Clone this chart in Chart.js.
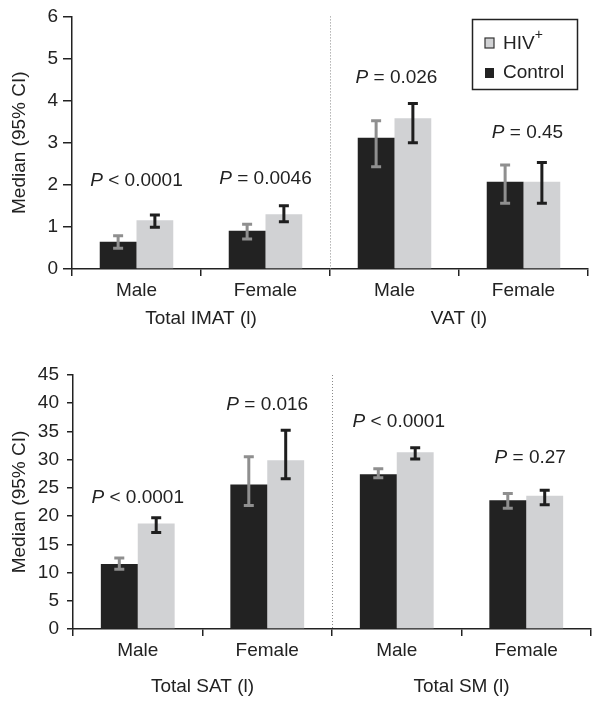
<!DOCTYPE html>
<html>
<head>
<meta charset="utf-8">
<script src="https://cdn.jsdelivr.net/npm/chart.js@4.4.1/dist/chart.umd.min.js"></script>
<style>
  html, body { margin: 0; padding: 0; background: #fff; }
  .panel { position: relative; width: 602px; }
</style>
</head>
<body>
<div class="panel" style="height:340px"><canvas id="cTop"></canvas></div>
<div class="panel" style="height:368px"><canvas id="cBot"></canvas></div>
<script>
// categorías (ambos paneles)
const SEXES = ['Male', 'Female', 'Male', 'Female'];
const TOP_GROUPS = ['Total IMAT (l)', 'VAT (l)'];
const BOT_GROUPS = ['Total SAT (l)', 'Total SM (l)'];
const SERIES = ['Control', 'HIV+'];

// panel superior: IMAT / VAT (mediana e IC 95%)
const topControl   = [0.65, 0.91, 3.12, 2.07];
const topControlLo = [0.49, 0.71, 2.43, 1.56];
const topControlHi = [0.79, 1.06, 3.52, 2.47];
const topHiv       = [1.16, 1.30, 3.58, 2.07];
const topHivLo     = [0.99, 1.12, 3.00, 1.56];
const topHivHi     = [1.28, 1.50, 3.93, 2.53];
const topP         = ['< 0.0001', '= 0.0046', '= 0.026', '= 0.45'];

// panel inferior: SAT / SM
const botControl   = [11.5, 25.6, 27.4, 22.8];
const botControlLo = [10.6, 21.9, 26.8, 21.4];
const botControlHi = [12.6, 30.5, 28.4, 24.0];
const botHiv       = [18.7, 29.9, 31.3, 23.6];
const botHivLo     = [17.1, 26.6, 30.1, 22.0];
const botHivHi     = [19.7, 35.2, 32.1, 24.6];
const botP         = ['< 0.0001', '= 0.016', '< 0.0001', '= 0.27'];

// ticks del eje Y
const TOP_Y = { min: 0, max: 6, step: 1 };
const BOT_Y = { min: 0, max: 45, step: 5 };

const FONT = '"Liberation Sans", Arial, Helvetica, sans-serif';
const INK = '#222222';
const DARK = '#222222', LIGHT = '#d1d2d4';

// barras de error (IC 95%)
const errorBars = {
  id: 'errorBars',
  afterDatasetsDraw(chart) {
    const ctx = chart.ctx, y = chart.scales.y;
    chart.data.datasets.forEach((ds, i) => {
      chart.getDatasetMeta(i).data.forEach((bar, j) => {
        const t = y.getPixelForValue(ds.hi[j]), b = y.getPixelForValue(ds.lo[j]);
        ctx.save();
        ctx.strokeStyle = ds.errColor;
        ctx.lineWidth = 3;
        ctx.beginPath();
        ctx.moveTo(bar.x, t); ctx.lineTo(bar.x, b);
        ctx.moveTo(bar.x - 5, t); ctx.lineTo(bar.x + 5, t);
        ctx.moveTo(bar.x - 5, b); ctx.lineTo(bar.x + 5, b);
        ctx.stroke();
        ctx.restore();
      });
    });
  }
};

// separador punteado, títulos de grupo, valores P y leyenda
const decor = {
  id: 'decor',
  beforeDatasetsDraw(chart) {
    const ctx = chart.ctx, x = chart.scales.x, a = chart.chartArea;
    const sx = Math.round((x.getPixelForValue(1) + x.getPixelForValue(2)) / 2) + 0.5;
    ctx.save();
    ctx.strokeStyle = '#8a8a8a';
    ctx.lineWidth = 1;
    ctx.setLineDash([1, 2]);
    ctx.beginPath(); ctx.moveTo(sx, a.top); ctx.lineTo(sx, a.bottom); ctx.stroke();
    ctx.restore();
  },
  afterDraw(chart, args, opts) {
    const ctx = chart.ctx, x = chart.scales.x, y = chart.scales.y, a = chart.chartArea;
    ctx.save();
    ctx.fillStyle = INK;
    ctx.textBaseline = 'middle';

    // títulos de grupo bajo el eje
    ctx.font = `19px ${FONT}`;
    ctx.textAlign = 'center';
    opts.groups.forEach((g, k) => {
      const cx = (x.getPixelForValue(2 * k) + x.getPixelForValue(2 * k + 1)) / 2;
      ctx.fillText(g, cx, a.bottom + opts.groupGap);
    });

    // valores P
    ctx.textAlign = 'left';
    opts.p.forEach((txt, k) => {
      ctx.font = `italic 19px ${FONT}`;
      const wP = ctx.measureText('P').width;
      ctx.font = `19px ${FONT}`;
      const rest = ' ' + txt;
      const w = wP + ctx.measureText(rest).width;
      const x0 = x.getPixelForValue(k) + opts.pShift[k] - w / 2;
      const yy = y.getPixelForValue(opts.pAt[k]);
      ctx.font = `italic 19px ${FONT}`;
      ctx.fillText('P', x0, yy);
      ctx.font = `19px ${FONT}`;
      ctx.fillText(rest, x0 + wP, yy);
    });

    // leyenda
    if (opts.legend) {
      const L = opts.legend;
      ctx.strokeStyle = INK;
      ctx.lineWidth = 1.5;
      ctx.strokeRect(L.x + 0.5, L.y + 0.5, L.w, L.h);
      const hiv = chart.data.datasets[1], ctl = chart.data.datasets[0];
      // HIV+
      ctx.fillStyle = hiv.backgroundColor;
      ctx.fillRect(L.x + 13, L.y + 19, 9, 10);
      ctx.lineWidth = 1.2;
      ctx.strokeStyle = '#333';
      ctx.strokeRect(L.x + 13, L.y + 19, 9, 10);
      ctx.fillStyle = INK;
      ctx.font = `19px ${FONT}`;
      ctx.fillText('HIV', L.x + 31, L.y + 25);
      const wh = ctx.measureText('HIV').width;
      ctx.font = `14px ${FONT}`;
      ctx.fillText('+', L.x + 31 + wh, L.y + 16);
      // Control
      ctx.fillStyle = ctl.backgroundColor;
      ctx.fillRect(L.x + 13, L.y + 49, 9, 10);
      ctx.fillStyle = INK;
      ctx.font = `19px ${FONT}`;
      ctx.fillText(SERIES[0], L.x + 31, L.y + 54);
    }
    ctx.restore();
  }
};

function makePanel(id, cfg) {
  const datasets = [
    { label: SERIES[0], data: cfg.control, lo: cfg.controlLo, hi: cfg.controlHi,
      backgroundColor: DARK, errColor: '#8f8f8f' },
    { label: SERIES[1], data: cfg.hiv, lo: cfg.hivLo, hi: cfg.hivHi,
      backgroundColor: LIGHT, errColor: '#1e1e1e' }
  ].map(d => Object.assign(d, { categoryPercentage: 0.57, barPercentage: 1.0, borderWidth: 0 }));

  return new Chart(document.getElementById(id), {
    type: 'bar',
    data: { labels: SEXES, datasets },
    options: {
      responsive: true,
      maintainAspectRatio: false,
      animation: false,
      layout: { padding: { top: cfg.padTop, right: cfg.padRight, left: 0, bottom: 0 } },
      plugins: {
        legend: { display: false },
        tooltip: { enabled: false },
        decor: { groups: cfg.groups, groupGap: cfg.groupGap, p: cfg.p, pAt: cfg.pAt,
                 pShift: [0, 0, 2, 4], legend: cfg.legend }
      },
      scales: {
        x: {
          grid: { display: true, offset: true, drawOnChartArea: false, tickLength: 7,
                  color: INK, lineWidth: 1.5 },
          border: { color: INK, width: 1.5 },
          ticks: { color: INK, font: { family: FONT, size: 19 }, padding: 3 },
          afterFit: s => { s.height = cfg.xHeight; }
        },
        y: {
          min: cfg.y.min, max: cfg.y.max,
          grid: { drawOnChartArea: false, tickLength: cfg.yTick, color: INK, lineWidth: 1.5 },
          border: { color: INK, width: 1.5 },
          ticks: { stepSize: cfg.y.step, color: INK, font: { family: FONT, size: 19 }, padding: cfg.yPad },
          title: { display: true, text: 'Median (95% CI)', color: INK,
                   font: { family: FONT, size: 19 }, padding: { top: 8, bottom: 0 } },
          afterFit: s => { s.width = cfg.yWidth; }
        }
      }
    },
    plugins: [decor, errorBars]
  });
}

makePanel('cTop', {
  control: topControl, controlLo: topControlLo, controlHi: topControlHi,
  hiv: topHiv, hivLo: topHivLo, hivHi: topHivHi,
  p: topP, pAt: [2.1, 2.14, 4.54, 3.24], groups: TOP_GROUPS,
  y: TOP_Y, padTop: 15, padRight: 14, xHeight: 71, yWidth: 72, groupGap: 50,
  yTick: 9, yPad: 5,
  legend: { x: 472, y: 19, w: 105, h: 70 }
});

makePanel('cBot', {
  control: botControl, controlLo: botControlLo, controlHi: botControlHi,
  hiv: botHiv, hivLo: botHivLo, hivHi: botHivHi,
  p: botP, pAt: [23.2, 39.7, 36.7, 30.3], groups: BOT_GROUPS,
  y: BOT_Y, padTop: 35, padRight: 11, xHeight: 79, yWidth: 73, groupGap: 58,
  yTick: 6, yPad: 8,
  legend: null
});
</script>
</body>
</html>
